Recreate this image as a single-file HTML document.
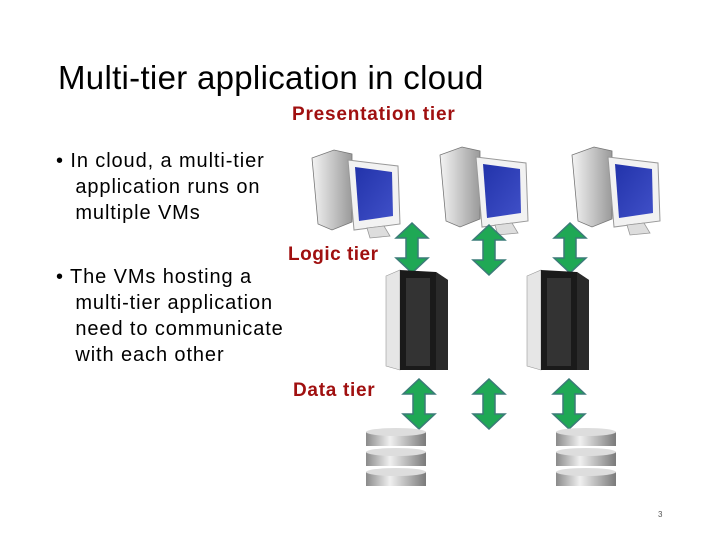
<!DOCTYPE html>
<html><head><style>
body{margin:0;width:720px;height:540px;background:#fff;position:relative;overflow:hidden;font-family:"Liberation Sans",sans-serif}
.t{position:absolute;white-space:nowrap}
</style></head><body>
<div class="t" style="left:58px;top:59px;font-size:33px;letter-spacing:0.3px;color:#000">Multi-tier application in cloud</div>
<div class="t" style="left:292px;top:104px;font-size:19px;letter-spacing:0.8px;font-weight:bold;color:#a01010">Presentation tier</div>
<div class="t" style="left:288px;top:244px;font-size:19px;letter-spacing:0.5px;font-weight:bold;color:#a01010">Logic tier</div>
<div class="t" style="left:293px;top:380px;font-size:19px;letter-spacing:0.7px;font-weight:bold;color:#a01010">Data tier</div>
<div class="t" style="left:56px;top:148px;font-size:20px;letter-spacing:0.9px;line-height:26px;color:#000">• In cloud, a multi-tier<br>&nbsp;&nbsp;&nbsp;application runs on<br>&nbsp;&nbsp;&nbsp;multiple VMs</div>
<div class="t" style="left:56px;top:264px;font-size:20px;letter-spacing:0.9px;line-height:26px;color:#000">• The VMs hosting a<br>&nbsp;&nbsp;&nbsp;multi-tier application<br>&nbsp;&nbsp;&nbsp;need to communicate<br>&nbsp;&nbsp;&nbsp;with each other</div>
<div class="t" style="left:658px;top:510px;font-size:8px;color:#555">3</div>
<svg width="720" height="540" style="position:absolute;left:0;top:0">
<defs>
<linearGradient id="tw" x1="0" x2="1"><stop offset="0" stop-color="#f4f4f4"/><stop offset="1" stop-color="#9a9a9a"/></linearGradient>
<linearGradient id="sc" x1="0" y1="0" x2="1" y2="1"><stop offset="0" stop-color="#2233aa"/><stop offset="1" stop-color="#4050c8"/></linearGradient>
<linearGradient id="db" x1="0" x2="1"><stop offset="0" stop-color="#8a8a8a"/><stop offset="0.4" stop-color="#f0f0f0"/><stop offset="1" stop-color="#7a7a7a"/></linearGradient>
<g id="pc">
<path d="M0 8 L22 0 L40 4 L40 72 L20 80 L6 74 Z" fill="url(#tw)" stroke="#777" stroke-width="0.8"/>
<path d="M36 10 L86 16 L88 74 L42 80 Z" fill="#f2f2f2" stroke="#999" stroke-width="1"/>
<path d="M43 17 L80 22 L81 66 L47 71 Z" fill="url(#sc)"/>
<path d="M55 78 L72 76 L78 86 L58 88 Z" fill="#ddd" stroke="#999" stroke-width="0.8"/>
</g>
<g id="ar"><polygon points="0,15 16,0 32,15 22,15 22,35 32,35 16,50 0,35 10,35 10,15" fill="#1fa855" stroke="#3b7b78" stroke-width="1.5"/></g>
<g id="sv">
<polygon points="0,6 14,0 14,100 0,96" fill="#e6e6e6" stroke="#999" stroke-width="0.6"/>
<polygon points="14,0 50,2 62,10 62,100 14,100" fill="#1a1a1a"/>
<rect x="20" y="8" width="24" height="88" fill="#333"/>
<polygon points="50,2 62,10 62,100 50,100" fill="#2a2a2a"/>
</g>
<g id="dbs">
<g><rect x="0" y="4" width="60" height="14" fill="url(#db)"/><ellipse cx="30" cy="4" rx="30" ry="4" fill="#ddd"/></g>
<g transform="translate(0,20)"><rect x="0" y="4" width="60" height="14" fill="url(#db)"/><ellipse cx="30" cy="4" rx="30" ry="4" fill="#ddd"/></g>
<g transform="translate(0,40)"><rect x="0" y="4" width="60" height="14" fill="url(#db)"/><ellipse cx="30" cy="4" rx="30" ry="4" fill="#ddd"/></g>
</g>
</defs>
<use href="#pc" x="312" y="150"/><use href="#pc" x="440" y="147"/><use href="#pc" x="572" y="147"/>
<use href="#ar" x="396" y="223"/><use href="#ar" x="473" y="225"/><use href="#ar" x="554" y="223"/>
<use href="#sv" x="386" y="270"/><use href="#sv" x="527" y="270"/>
<use href="#ar" x="403" y="379"/><use href="#ar" x="473" y="379"/><use href="#ar" x="553" y="379"/>
<use href="#dbs" x="366" y="428"/><use href="#dbs" x="556" y="428"/>
</svg>
</body></html>
